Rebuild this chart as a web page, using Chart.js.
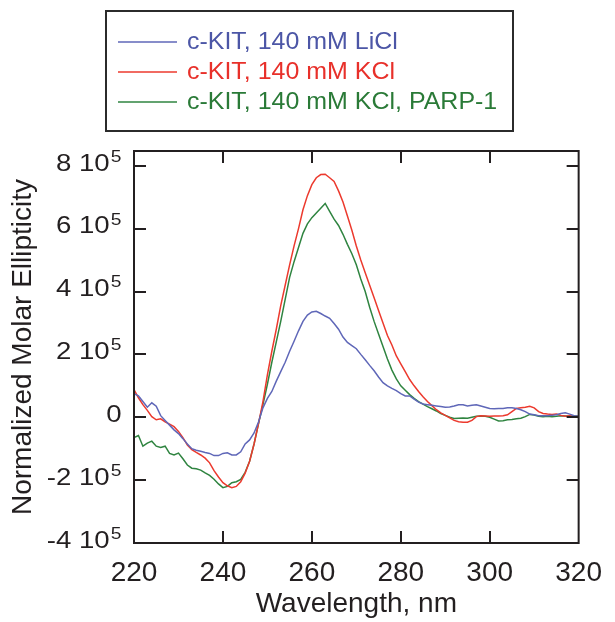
<!DOCTYPE html>
<html><head><meta charset="utf-8">
<script src="https://cdn.jsdelivr.net/npm/chart.js@4/dist/chart.umd.min.js"></script>
<style>html,body{margin:0;padding:0;background:#fff;}#wrap{width:615px;height:622px;}</style>
</head><body><div id="wrap"><canvas id="c" width="615" height="622"></canvas></div>
<script>
const wavelengths = [220,221,222,223,224,225,226,227,228,229,230,231,232,233,234,235,236,237,238,239,240,241,242,243,244,245,246,247,248,249,250,251,252,253,254,255,256,257,258,259,260,261,262,263,264,265,266,267,268,269,270,271,272,273,274,275,276,277,278,279,280,281,282,283,284,285,286,287,288,289,290,291,292,293,294,295,296,297,298,299,300,301,302,303,304,305,306,307,308,309,310,311,312,313,314,315,316,317,318,319,320];
// values in units of 10^5
const liclValues = [0.75,0.68,0.50,0.32,0.46,0.35,0.05,-0.10,-0.25,-0.40,-0.52,-0.68,-0.85,-1.00,-1.05,-1.08,-1.12,-1.15,-1.22,-1.22,-1.15,-1.13,-1.20,-1.20,-1.10,-0.85,-0.72,-0.50,-0.15,0.30,0.60,0.82,1.15,1.45,1.75,2.10,2.42,2.75,3.05,3.25,3.35,3.37,3.30,3.22,3.15,2.98,2.80,2.55,2.38,2.28,2.18,2.00,1.83,1.65,1.48,1.28,1.10,1.00,0.92,0.85,0.75,0.68,0.68,0.58,0.48,0.42,0.40,0.38,0.36,0.34,0.32,0.33,0.36,0.40,0.40,0.36,0.38,0.40,0.36,0.32,0.28,0.27,0.28,0.28,0.30,0.30,0.28,0.24,0.18,0.10,0.08,0.05,0.05,0.05,0.06,0.08,0.12,0.14,0.10,0.05,0.03];
const kclValues = [0.88,0.62,0.40,0.22,0.02,-0.08,-0.05,-0.15,-0.22,-0.30,-0.45,-0.65,-0.88,-1.03,-1.12,-1.20,-1.30,-1.45,-1.70,-1.90,-2.08,-2.18,-2.24,-2.20,-2.05,-1.78,-1.40,-0.85,-0.20,0.50,1.35,2.10,2.80,3.55,4.20,4.85,5.45,6.00,6.60,7.05,7.40,7.62,7.72,7.73,7.62,7.50,7.20,6.85,6.40,5.95,5.45,5.00,4.60,4.20,3.80,3.40,3.00,2.60,2.30,1.95,1.70,1.45,1.20,1.00,0.82,0.65,0.50,0.37,0.24,0.14,0.06,-0.02,-0.10,-0.14,-0.16,-0.16,-0.10,0.02,0.05,0.04,0.03,0.04,0.04,0.05,0.08,0.18,0.28,0.30,0.32,0.35,0.30,0.18,0.12,0.10,0.09,0.10,0.06,0.03,0.05,0.02,0.03];
const parpValues = [-0.65,-0.58,-0.92,-0.82,-0.76,-0.92,-0.96,-0.92,-1.15,-1.20,-1.14,-1.32,-1.52,-1.62,-1.64,-1.68,-1.77,-1.85,-1.97,-2.12,-2.24,-2.20,-2.08,-2.05,-1.98,-1.75,-1.40,-0.85,-0.20,0.40,1.05,1.75,2.40,3.05,3.75,4.45,4.95,5.40,5.85,6.15,6.35,6.50,6.65,6.80,6.55,6.30,6.10,5.82,5.50,5.20,4.85,4.40,4.00,3.50,3.05,2.65,2.25,1.85,1.50,1.22,1.00,0.86,0.72,0.60,0.50,0.42,0.34,0.27,0.20,0.12,0.06,0.00,-0.04,-0.03,-0.02,-0.03,0.00,0.03,0.04,0.03,0.00,-0.06,-0.12,-0.11,-0.08,-0.07,-0.05,-0.03,0.02,0.09,0.07,0.03,0.02,0.03,0.02,0.03,0.05,0.04,0.03,0.04,0.03];
const seriesLabels = ['c-KIT, 140 mM LiCl','c-KIT, 140 mM KCl','c-KIT, 140 mM KCl, PARP-1'];
const xTickValues = [220,240,260,280,300,320];
const yTickValues = [-4,-2,0,2,4,6,8];
const yExponent = '5';

const FONT = '"Liberation Sans", Arial, Helvetica, sans-serif';
const lineColors = ['#5f67b8','#ec3a2e','#2f8440'];
const textColors = ['#4c56a6','#e8302a','#2a7a37'];
const INK = '#231f20';

function pts(vals){ return wavelengths.map((w,i)=>({x:w,y:vals[i]})); }

const decor = {
  id:'decor',
  afterDraw(chart){
    const ctx = chart.ctx, a = chart.chartArea;
    const xs = chart.scales.x, ys = chart.scales.y;
    ctx.save();
    // frame
    ctx.strokeStyle = INK; ctx.lineWidth = 2;
    ctx.strokeRect(a.left, a.top, a.right-a.left, a.bottom-a.top);
    // inward ticks
    const tl = 12;
    ctx.beginPath();
    xTickValues.forEach(v=>{
      const px = Math.round(xs.getPixelForValue(v));
      if (px<=a.left+1 || px>=a.right-1) return;
      ctx.moveTo(px, a.bottom); ctx.lineTo(px, a.bottom-tl);
      ctx.moveTo(px, a.top); ctx.lineTo(px, a.top+tl);
    });
    yTickValues.forEach(v=>{
      const py = Math.round(ys.getPixelForValue(v));
      if (py<=a.top+1 || py>=a.bottom-1) return;
      ctx.moveTo(a.left, py); ctx.lineTo(a.left+tl, py);
      ctx.moveTo(a.right, py); ctx.lineTo(a.right-tl, py);
    });
    ctx.stroke();
    // y tick labels with superscript exponent
    ctx.fillStyle = INK;
    const rightX = 121.5, sx = 1.2;
    yTickValues.forEach(v=>{
      const py = ys.getPixelForValue(v);
      ctx.save();
      ctx.translate(rightX, py-1.5);
      ctx.scale(sx,1);
      ctx.textAlign='right'; ctx.textBaseline='middle';
      if (v===0){
        ctx.font = '23px '+FONT;
        ctx.fillText('0', 0, 0);
      } else {
        ctx.font = '16px '+FONT;
        const sw = ctx.measureText(yExponent).width;
        ctx.fillText(yExponent, 0, -7);
        ctx.font = '23px '+FONT;
        ctx.fillText(String(v)+' 10', -sw-1, 0);
      }
      ctx.restore();
    });
    // legend box
    ctx.lineWidth = 2; ctx.strokeStyle = '#2b2b2b';
    ctx.strokeRect(106, 11, 407, 120);
    const rows = [42,72,102];
    chart.data.datasets.forEach((ds,i)=>{
      const y = rows[i];
      ctx.strokeStyle = ds.borderColor; ctx.lineWidth = 1.5;
      ctx.beginPath(); ctx.moveTo(118,y); ctx.lineTo(177,y); ctx.stroke();
      ctx.save();
      ctx.translate(187, y);
      ctx.scale(1.04,1);
      ctx.font = '24px '+FONT; ctx.fillStyle = textColors[i];
      ctx.textAlign='left'; ctx.textBaseline='middle';
      ctx.fillText(ds.label, 0, 0);
      ctx.restore();
    });
    ctx.restore();
  }
};

new Chart(document.getElementById('c'), {
  type:'line',
  data:{ datasets:[
    {label:seriesLabels[0], data:pts(liclValues), borderColor:lineColors[0]},
    {label:seriesLabels[1], data:pts(kclValues), borderColor:lineColors[1]},
    {label:seriesLabels[2], data:pts(parpValues), borderColor:lineColors[2]}
  ]},
  options:{
    responsive:false, animation:false, devicePixelRatio:1,
    layout:{padding:{top:151,right:28,left:0,bottom:0}},
    elements:{point:{radius:0}, line:{borderWidth:1.5, tension:0, fill:false}},
    plugins:{legend:{display:false}, tooltip:{enabled:false}},
    scales:{
      x:{type:'linear', min:220, max:320,
        afterBuildTicks:s=>{s.ticks = xTickValues.map(v=>({value:v}));},
        afterFit:s=>{s.height=79;},
        grid:{display:false, drawTicks:false}, border:{display:false},
        ticks:{font:{size:28,family:FONT}, color:INK, padding:13, maxRotation:0, autoSkip:false},
        title:{display:true, text:'Wavelength, nm', color:INK, font:{size:28,family:FONT,lineHeight:1.2}, padding:{top:0,bottom:1}}
      },
      y:{type:'linear', min:-4, max:8.47,
        afterBuildTicks:s=>{s.ticks = yTickValues.map(v=>({value:v}));},
        afterFit:s=>{s.width=134;},
        grid:{display:false, drawTicks:false}, border:{display:false},
        ticks:{display:false},
        title:{display:true, text:'Normalized Molar Ellipticity', color:INK, font:{size:28,family:FONT,lineHeight:1.2}, padding:{top:6,bottom:0}}
      }
    }
  },
  plugins:[decor]
});
</script></body></html>
